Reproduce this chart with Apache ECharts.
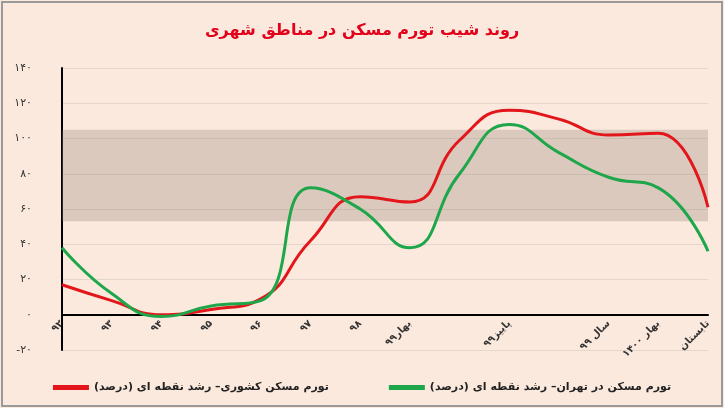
<!DOCTYPE html>
<html><head><meta charset="utf-8">
<script src="https://cdn.jsdelivr.net/npm/echarts@6/dist/echarts.min.js"></script>
<style>html,body{margin:0;padding:0;background:#fff}#main{width:724px;height:408px}</style>
</head><body><div id="main"></div>
<script>
const categories = ["۹۲", "۹۳", "۹۴", "۹۵", "۹۶", "۹۷", "۹۸", "بهار۹۹", "", "پاییز۹۹", "", "سال ۹۹", "بهار ۱۴۰۰", "تابستان"];
const national = [17, 8, 0, 3, 9, 42, 67, 64, 99, 116, 111, 102, 103, 61];
const tehran = [38, 12, -1, 5, 8, 72, 60, 38, 80, 108, 92, 78, 72, 36];
const yTicks = { min: -20, max: 140, interval: 20 };

const fa = (v) => String(v).replace(/\d/g, (d) => "۰۱۲۳۴۵۶۷۸۹"[d]);

const chart = echarts.init(document.getElementById("main"));
chart.setOption({
    backgroundColor: "#fbe9dd",
    textStyle: { fontFamily: "DejaVu Sans" },
    graphic: [{
        type: "rect", shape: { x: 2, y: 2, width: 720, height: 404 },
        style: { fill: "none", stroke: "#999", lineWidth: 2 }, silent: true
    }],
    title: {
        text: "روند شیب تورم مسکن در مناطق شهری", left: "center", top: 18,
        textStyle: { color: "#e2001a", fontSize: 16, fontWeight: "bold" }
    },
    grid: { left: 62, right: 16, top: 68, bottom: 58 },
    legend: {
        bottom: 10, itemWidth: 36, itemHeight: 5, itemGap: 60, icon: "rect",
        textStyle: { fontSize: 11, fontWeight: "bold", color: "#222" },
        data: ["تورم مسکن کشوری– رشد نقطه ای (درصد)", "تورم مسکن در تهران– رشد نقطه ای (درصد)"]
    },
    xAxis: {
        type: "category", data: categories, boundaryGap: false,
        axisLine: { onZero: true, lineStyle: { color: "#000", width: 2 } },
        axisTick: { show: false },
        axisLabel: {
            rotate: 45, interval: 0, fontSize: 10, fontWeight: "bold", color: "#333", margin: -28
        }
    },
    yAxis: {
        type: "value", min: yTicks.min, max: yTicks.max, interval: yTicks.interval,
        axisLine: { show: true, lineStyle: { color: "#000", width: 2 } },
        axisLabel: { formatter: (v) => fa(v), color: "#333", fontSize: 11, margin: 30 },
        splitLine: { lineStyle: { color: "#e3d6cc" } }
    },
    series: [
        {
            name: "تورم مسکن کشوری– رشد نقطه ای (درصد)", type: "line", smooth: true,
            data: national, symbol: "none", lineStyle: { color: "#e2161b", width: 3 },
            itemStyle: { color: "#e2161b" },
            markArea: {
                silent: true, itemStyle: { color: "rgba(150,130,120,0.3)" },
                data: [[{ yAxis: 53 }, { yAxis: 105 }]]
            }
        },
        {
            name: "تورم مسکن در تهران– رشد نقطه ای (درصد)", type: "line", smooth: true,
            data: tehran, symbol: "none", lineStyle: { color: "#1ea64a", width: 3 },
            itemStyle: { color: "#1ea64a" }
        }
    ]
});
</script></body></html>
